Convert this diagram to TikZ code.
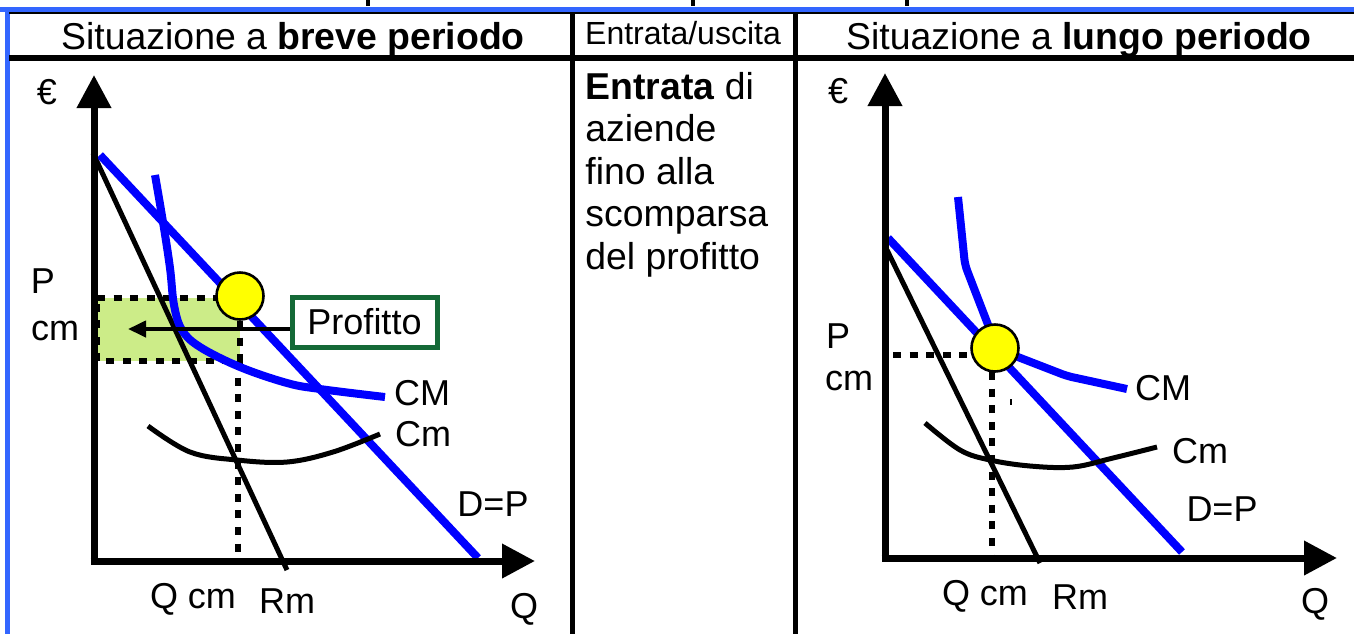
\documentclass[tikz,border=0pt]{standalone}
\usepackage{fontspec}
\setmainfont{Liberation Sans}
\usetikzlibrary{arrows.meta}
\definecolor{frameblue}{RGB}{51,102,255}
\definecolor{curveblue}{RGB}{0,0,255}
\definecolor{profgreen}{RGB}{204,236,136}
\definecolor{boxgreen}{RGB}{20,105,55}
\definecolor{dotyellow}{RGB}{255,255,0}
\begin{document}
\begin{tikzpicture}[x=0.5pt,y=-0.5pt,
  lbl/.style={inner sep=0pt,anchor=base,font=\fontsize{18}{21}\selectfont},
  hdr/.style={inner sep=0pt,anchor=base,font=\fontsize{18.7}{22}\selectfont},
  midtxt/.style={inner sep=0pt,anchor=base west,font=\fontsize{18.7}{22}\selectfont},
  axis/.style={line width=3.5pt,-{Triangle[length=16.5pt,width=16.5pt]}},
  bluecurve/.style={curveblue,line width=4pt,line join=round},
  blackcurve/.style={black,line width=2.5pt,line join=round},
  dotline/.style={line width=3pt,dash pattern=on 4pt off 4.3pt},
  eqdot/.style={circle,draw=black,line width=1.3pt,fill=dotyellow,minimum size=23.5pt,inner sep=0pt},
  profbox/.style={draw=boxgreen,line width=2.5pt,fill=white,minimum width=72.5pt,minimum height=25pt,inner sep=0pt,font=\fontsize{18}{21}\selectfont},
  sep/.style={line width=2.5pt}
]
\useasboundingbox (0,0) rectangle (1354,634);
\fill[white] (0,0) rectangle (1354,634);

% cut-off text fragments at the top
\fill (366,0) rectangle (370,6);
\fill (691,0) rectangle (695,6);
\fill (905,0) rectangle (909,6);

% frame
\draw[frameblue,line width=2.5pt] (0,9) -- (1354,9);
\draw[frameblue,line width=2.5pt] (7,9) -- (7,634);
\draw[line width=1.2pt] (9,13) -- (1354,13);
\draw[line width=3pt] (9,58) -- (1354,58);
\draw[sep] (572,13) -- (572,634);
\draw[sep] (795,13) -- (795,634);

% headers
\node[hdr] (h1) at (293,49) {Situazione a \textbf{breve periodo}};
\node[inner sep=0pt,anchor=base,font=\fontsize{16}{19}\selectfont] (h2) at (683,44) {Entrata/uscita};
\node[hdr] (h3) at (1079,49) {Situazione a \textbf{lungo periodo}};

% middle text
\node[midtxt] (m1) at (585,99) {\textbf{Entrata} di};
\node[midtxt] (m2) at (585,141.5) {aziende};
\node[midtxt] (m3) at (585,184) {fino alla};
\node[midtxt] (m4) at (585,226.5) {scomparsa};
\node[midtxt] (m5) at (585,269) {del profitto};

% ---------------- left chart ----------------
\coordinate (lo) at (94,561);
\coordinate (ly) at (94,75);
\coordinate (lx) at (535,561);
\fill[profgreen] (95,298) rectangle (240,361);
\draw[dotline] (97,298) -- (240,298) -- (240,361) -- (97,361) -- cycle;
\draw[dotline] (238,361) -- (238,561);

\draw[blackcurve] (93,153) -- (287,570);
\draw[bluecurve] (100,155) -- (478,558);
\draw[bluecurve] plot[smooth,tension=0.6] coordinates {(155,175) (163,222) (170,268) (174,305) (182,330) (200,347) (240,367) (287,383) (320,389) (385,397)};
\draw[blackcurve] plot[smooth,tension=0.6] coordinates {(148,426) (190,452) (237,460) (287,462) (333,452) (380,434)};

\draw[axis] (94,564.5) -- (ly);
\draw[axis] (90.5,561) -- (lx);

\node[profbox] (prof) at (364.5,322) {Profitto};
\coordinate (pa) at (128,329);
\draw[line width=2pt,-{Triangle[length=9pt,width=8pt]}] (prof.west |- pa) -- (pa);
\node[eqdot] (c1) at (240,296) {};

\node[lbl] (e1) at (47,104) {€};
\node[lbl] (p1) at (43,293) {P};
\node[lbl] (cm1) at (55,340) {cm};
\node[lbl] (CM1) at (422,405) {CM};
\node[lbl] (Cm1) at (423,446) {Cm};
\node[lbl] (D1) at (493,516) {D=P};
\node[lbl] (qcm1) at (193,608) {Q cm};
\node[lbl] (rm1) at (287,613) {Rm};
\node[lbl] (q1) at (524,618) {Q};

% ---------------- right chart ----------------
\coordinate (ry) at (885,73);
\coordinate (rx) at (1337,558);
\draw[dotline] (893,355) -- (975,355);
\draw[dotline] (992,372) -- (992,558);

\draw[blackcurve] (887,250) -- (1040,563);
\draw[bluecurve] (888,238) -- (1182,552);
\draw[bluecurve,rounded corners=3pt] (958,197) -- (965,265) -- (992,335) -- (1005,352) -- (1067,376) -- (1127,389);
\draw[blackcurve] plot[smooth,tension=0.6] coordinates {(925,423) (960,450) (990,460) (1030,466) (1073,467) (1113,458) (1157,447)};

\draw[axis] (885,561.5) -- (ry);
\draw[axis] (881.5,558) -- (rx);
\node[eqdot] (c2) at (995,348) {};
\fill (1010,399) rectangle (1012,405);

\node[lbl] (e2) at (838,103) {€};
\node[lbl] (p2) at (838,348) {P};
\node[lbl] (cm2) at (849,390) {cm};
\node[lbl] (CM2) at (1163,400) {CM};
\node[lbl] (Cm2) at (1200,463) {Cm};
\node[lbl] (D2) at (1222,521) {D=P};
\node[lbl] (qcm2) at (985,605) {Q cm};
\node[lbl] (rm2) at (1080,609) {Rm};
\node[lbl] (q2) at (1315,613) {Q};
\end{tikzpicture}
\end{document}
